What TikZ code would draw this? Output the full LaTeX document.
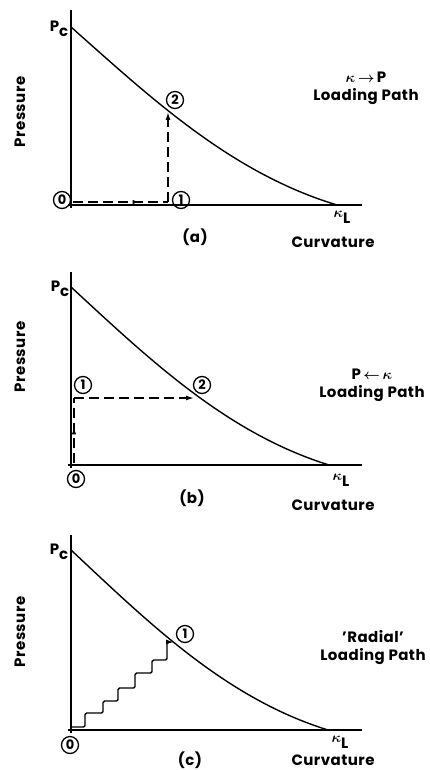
\documentclass[tikz,border=0pt]{standalone}
\usepackage{amsmath}
\usepackage{fontspec}
\setmainfont{Poppins}[LetterSpace=3]
\usetikzlibrary{arrows.meta,decorations.markings}

\begin{document}
\begin{tikzpicture}[
    x=1pt, y=-1pt,
    axis/.style={line width=1.7pt},
    curve/.style={line width=1.4pt},
    lpath/.style={dash pattern=on 10pt off 5pt, line width=1.4pt},
    stairs/.style={line width=1.4pt, rounded corners=1.5pt},
    num/.style={draw, circle, line width=1.3pt, inner sep=0pt, minimum size=17pt,
        font=\fontsize{13}{13}\selectfont\bfseries},
    lbl/.style={font=\fontsize{15}{18}\selectfont\bfseries, align=center},
    tip/.style={-{Latex[length=8pt,width=5pt]}},
    midarrow/.style={postaction={decorate}, decoration={markings,
        mark=at position #1 with {\arrow{Latex[length=7pt,width=4.5pt]}}}}
]
\useasboundingbox (0,0) rectangle (429,770);

% (a) kappa -> P loading path
\draw[axis] (71,10) -- (71,208);
\draw[axis] (68,205) -- (362,205);
\draw[curve] (71,27) .. controls (151,98) and (231,173) .. (337,205);
\node[lbl] (pca) at (59,29) {P\raisebox{-0.6ex}{c}};
\node[lbl] (kla) at (342,217) {$\boldsymbol{\kappa}$\raisebox{-0.7ex}{L}};
\node[lbl] (cva) at (333,242) {Curvature};
\node[lbl, rotate=90] (pra) at (20,112) {Pressure};
\node[lbl] (capa) at (195,237) {(a)};
\node[lbl] (ttla) at (366,88) {$\boldsymbol{\kappa\,{\rightarrow}}\,$P\\Loading Path};
\coordinate (a0) at (73,202);
\coordinate (a1) at (168,202);
\coordinate (a2) at (168,112);
\draw[lpath, midarrow=0.7] (a0) -- (a1);
\draw[lpath, tip] (a1) -- (a2);
\node[num] (na0) at (62,200) {0};
\node[num] (na1) at (181,200) {1};
\node[num] (na2) at (175,100) {2};

% (b) P -> kappa loading path
\draw[axis] (71,272) -- (71,468);
\draw[axis] (68,465) -- (362,465);
\draw[curve] (71,287) .. controls (148,358) and (226,433) .. (329,465);
\node[lbl] (pcb) at (60,289) {P\raisebox{-0.6ex}{c}};
\node[lbl] (klb) at (341,480) {$\boldsymbol{\kappa}$\raisebox{-0.7ex}{L}};
\node[lbl] (cvb) at (333,505) {Curvature};
\node[lbl, rotate=90] (prb) at (20,357) {Pressure};
\node[lbl] (capb) at (192,498) {(b)};
\node[lbl] (ttlb) at (372,385) {P$\,\boldsymbol{{\leftarrow}\,\kappa}$\\Loading Path};
\coordinate (b0) at (74,463);
\coordinate (b1) at (74,398);
\coordinate (b2) at (194,398);
\draw[lpath, midarrow=0.55] (b0) -- (b1);
\draw[lpath, tip] (b1) -- (b2);
\node[num] (nb0) at (76,479) {0};
\node[num] (nb1) at (83,385) {1};
\node[num] (nb2) at (202,385) {2};

% (c) 'radial' loading path
\draw[axis] (71,535) -- (71,733);
\draw[axis] (68,730) -- (362,730);
\draw[curve] (71,550) .. controls (148,622) and (225,698) .. (328,730);
\node[lbl] (pcc) at (59,552) {P\raisebox{-0.6ex}{c}};
\node[lbl] (klc) at (340,742) {$\boldsymbol{\kappa}$\raisebox{-0.7ex}{L}};
\node[lbl] (cvc) at (333,760) {Curvature};
\node[lbl, rotate=90] (prc) at (20,632) {Pressure};
\node[lbl] (capc) at (190,760) {(c)};
\node[lbl] (ttlc) at (373,648) {'Radial'\\Loading Path};
\coordinate (c0) at (72,727);
\coordinate (c1) at (174,642);
\draw[stairs, tip] (c0) -- (85,727) -- (85,713) -- (103,713) -- (103,701)
    -- (118,701) -- (118,688) -- (135,688) -- (135,673) -- (152,673)
    -- (152,660) -- (167,660) -- (167,642) -- (c1);
\node[num] (nc0) at (70,745) {0};
\node[num] (nc1) at (185,634) {1};
\end{tikzpicture}
\end{document}
